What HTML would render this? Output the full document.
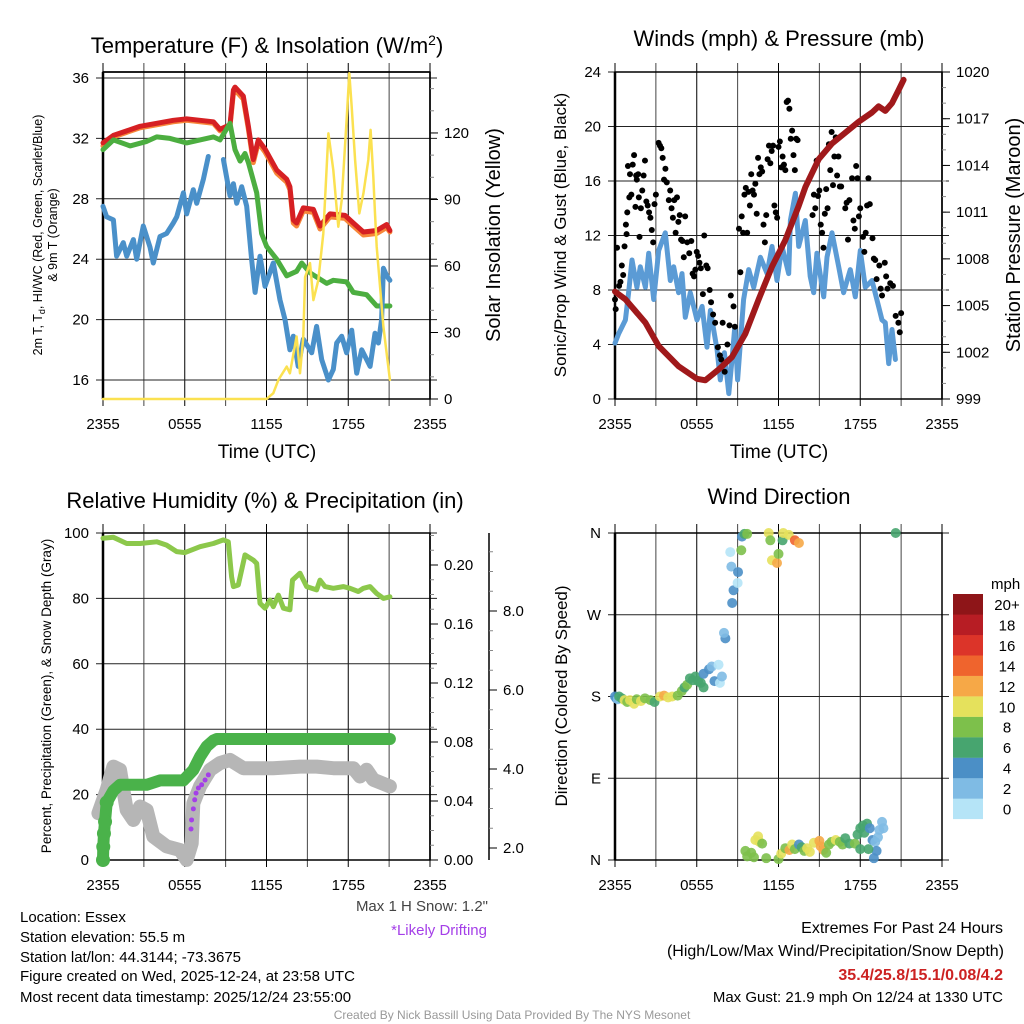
<!DOCTYPE html>
<html><head><meta charset="utf-8"><style>
body{margin:0;background:#fff;font-family:"Liberation Sans",Arial,sans-serif}
svg{display:block}
</style></head><body>
<svg id="s" width="1024" height="1024" xmlns="http://www.w3.org/2000/svg" font-family="Liberation Sans, Arial, sans-serif">
<text x="267" y="53" font-size="22" text-anchor="middle">Temperature (F) &amp; Insolation (W/m<tspan dy="-8" font-size="14">2</tspan><tspan dy="8">)</tspan></text>
<text x="779" y="46" font-size="22" text-anchor="middle">Winds (mph) &amp; Pressure (mb)</text>
<text x="265" y="508" font-size="22" text-anchor="middle">Relative Humidity (%) &amp; Precipitation (in)</text>
<text x="779" y="504" font-size="22" text-anchor="middle">Wind Direction</text>
<text transform="translate(42,235) rotate(-90)" font-size="12.5" text-anchor="middle">2m T, T<tspan font-size="9" dy="3">d</tspan><tspan dy="-3">, HI/WC (Red, Green, Scarlet/Blue)</tspan></text>
<text transform="translate(57,235) rotate(-90)" font-size="12.5" text-anchor="middle">&amp; 9m T (Orange)</text>
<text transform="translate(500,235) rotate(-90)" font-size="20" text-anchor="middle">Solar Insolation (Yellow)</text>
<text transform="translate(566,235) rotate(-90)" font-size="17" text-anchor="middle">Sonic/Prop Wind &amp; Gust (Blue, Black)</text>
<text transform="translate(1020,235) rotate(-90)" font-size="20" text-anchor="middle">Station Pressure (Maroon)</text>
<text transform="translate(51,696) rotate(-90)" font-size="13.5" text-anchor="middle">Percent, Precipitation (Green), &amp; Snow Depth (Gray)</text>
<text transform="translate(567,696) rotate(-90)" font-size="17" text-anchor="middle">Direction (Colored By Speed)</text>
<text x="267" y="458" font-size="19" text-anchor="middle">Time (UTC)</text>
<text x="779" y="458" font-size="19" text-anchor="middle">Time (UTC)</text>
<g font-size="15">
<text x="20" y="922">Location: Essex</text>
<text x="20" y="942">Station elevation: 55.5 m</text>
<text x="20" y="962">Station lat/lon: 44.3144; -73.3675</text>
<text x="20" y="981">Figure created on Wed, 2025-12-24, at 23:58 UTC</text>
<text x="20" y="1002">Most recent data timestamp: 2025/12/24 23:55:00</text>
</g>
<text x="488" y="911" font-size="15" text-anchor="end" fill="#444">Max 1 H Snow: 1.2"</text>
<text x="487" y="935" font-size="15" text-anchor="end" fill="#a43fe8">*Likely Drifting</text>
<g font-size="16" text-anchor="end">
<text x="1003" y="933">Extremes For Past 24 Hours</text>
<text x="1004" y="956">(High/Low/Max Wind/Precipitation/Snow Depth)</text>
<text x="1003" y="980" fill="#cc2222" font-weight="bold">35.4/25.8/15.1/0.08/4.2</text>
<text x="1003" y="1002" font-size="15">Max Gust: 21.9 mph On 12/24 at 1330 UTC</text>
</g>
<text x="512" y="1019" font-size="12" text-anchor="middle" fill="#999">Created By Nick Bassill Using Data Provided By The NYS Mesonet</text>
</svg>
<script>
// ---- data ----
const xTickLabels=["2355","0555","1155","1755","2355"];
const tempHours=[0,0.76,2.72,5.16,6.14,8.1,8.59,9.32,9.57,9.69,10.3,10.67,11.03,11.4,11.89,12.75,13.48,13.72,13.97,14.21,14.7,15.44,15.93,16.66,17.76,18.37,19.11,20.09,20.82,21.06];
const tempVals=[31.7,32.2,32.8,33.2,33.3,33.1,32.6,32.9,35.2,35.4,34.8,32.8,30.6,31.9,31.3,29.9,29.3,28.8,26.6,26.4,27.4,27.3,26.2,27.0,26.9,26.4,25.8,25.9,26.3,25.9];
const t9Vals=[31.5,32.1,32.7,33.1,33.2,33.0,32.5,32.8,35.0,35.2,34.6,32.6,30.4,31.7,31.1,29.7,29.1,28.6,26.4,26.2,27.2,27.1,26.0,26.8,26.7,26.2,25.6,25.7,26.1,25.8];
const hiHours=[0,0.76,1.99,3.21,3.94,4.92,6.14,7.12,8.1,8.59,9.32,9.69,10.06,10.42,10.67,11.28,11.64,12.01,12.75,13.48,14.21,14.58,15.19,16.42,16.9,17.88,18.37,19.35,20.09,21.06];
const hiVals=[31.25,31.9,31.5,31.8,32.1,32.0,31.7,31.9,32.1,31.9,33.0,31.25,30.5,31.0,30.4,28.4,25.7,24.85,24.0,22.9,23.2,23.75,23.1,22.4,22.6,22.5,21.8,21.65,20.9,20.9];
const tdHours=[0,0.27,0.76,1.0,1.49,1.74,2.23,2.47,2.96,3.45,3.69,4.18,4.67,5.16,5.41,5.9,6.14,6.63,7.12,7.49,null,8.35,8.59,9.08,9.32,9.57,9.93,10.3,10.67,10.91,11.28,11.64,12.5,12.99,13.36,13.72,13.97,14.33,14.7,15.32,15.68,16.05,16.54,16.9,17.15,17.52,17.88,18.25,18.62,18.99,19.6,19.96,20.21,20.45,20.82,21.06];
const tdVals=[27.5,26.8,26.6,24.2,25.1,24.2,25.3,24.0,26.2,24.8,23.75,25.5,25.7,26.4,26.8,28.4,27.0,28.6,27.7,29.3,30.8,null,30.6,28.2,29.0,27.7,28.8,27.5,24.0,21.8,24.2,22.2,23.75,21.3,20.0,18.0,18.9,16.9,18.7,17.8,19.55,17.35,16.0,16.7,18.45,18.9,17.8,19.3,16.45,18.0,16.9,19.1,18.45,20.0,23.4,22.9,22.6].slice(0,0);
const tdH=[0,0.27,0.76,1.0,1.49,1.74,2.23,2.47,2.96,3.45,3.69,4.18,4.67,5.16,5.41,5.9,6.14,6.63,6.88,7.37,7.73,8.59,8.84,9.32,9.57,9.81,10.18,10.55,10.91,11.16,11.52,11.89,12.5,12.99,13.36,13.72,13.97,14.33,14.7,15.32,15.68,16.05,16.54,16.9,17.15,17.52,17.88,18.25,18.62,18.99,19.6,19.96,20.21,20.45,20.58,20.82,21.06];
const tdV=[27.5,26.8,26.6,24.2,25.1,24.2,25.3,24.0,26.2,24.8,23.75,25.5,25.7,26.4,26.8,28.4,27.0,28.6,27.7,29.3,30.8,null,30.6,28.2,29.0,27.7,28.8,27.5,24.0,21.8,24.2,22.2,23.75,21.3,20.0,18.0,18.9,16.9,18.7,17.8,19.55,17.35,16.0,16.7,18.45,18.9,17.8,19.3,16.45,18.0,16.9,19.1,18.45,20.0,23.4,22.9,22.6];
const solHours=[0,12.0,12.5,12.87,13.48,13.72,14.21,14.46,14.7,14.83,15.19,15.44,15.8,16.17,16.54,16.9,17.27,17.52,17.88,18.08,18.25,18.5,18.81,19.11,19.47,19.64,19.84,19.96,20.09,20.58,21.06];
const solVals=[0,0,2.6,8.6,14.6,11.6,28.2,11.6,28.2,55,61.3,44.6,53.6,74.6,119.8,103.3,77.7,89.7,125.8,146.9,131.8,107.8,83.7,92.7,107.8,121.4,100.3,83.7,68.7,32.6,8.6];
const tempTicks=[16,20,24,28,32,36];
const solTicks=[0,30,60,90,120];

const presHours=[0,0.76,2.23,3.21,4.67,6.02,6.63,7.61,8.59,9.57,10.55,11.52,12.5,13.48,13.97,14.95,15.93,16.9,17.88,18.86,19.35,19.84,20.33,20.82,21.18];
const presVals=[1005.9,1005.4,1003.9,1002.4,1001.1,1000.3,1000.2,1000.9,1001.7,1003.2,1005.4,1007.5,1009.2,1011.4,1012.6,1014.4,1015.4,1016.1,1016.8,1017.4,1017.8,1017.5,1018.0,1018.85,1019.5];
const windHours=[0,0.27,0.76,1.0,1.25,1.61,1.86,2.23,2.47,2.84,3.21,3.69,4.06,4.31,4.67,4.92,5.16,5.53,6.02,6.39,6.75,7.0,7.49,7.73,8.03,8.35,8.59,8.79,9.0,9.44,9.81,10.18,10.67,11.16,11.52,11.89,12.26,12.75,12.87,13.24,13.48,13.97,14.33,14.58,14.82,15.32,15.56,15.93,16.42,16.78,17.27,17.64,18.0,18.37,18.86,19.35,19.6,19.84,20.09,20.33,20.58];
const windVals=[4.1,4.8,5.8,7.8,10.2,8.2,9.7,8.2,10.7,7.3,10.9,12.2,8.7,9.7,7.8,9.2,6.0,7.8,5.8,6.8,3.8,6.5,3.6,1.4,3.4,0.4,2.9,5.3,1.4,7.3,9.5,8.2,10.4,9.2,11.2,8.7,11.2,9.2,13.1,15.1,11.2,13.1,9.0,7.8,10.7,7.5,10.4,12.2,9.7,7.8,9.5,7.5,10.9,8.2,8.7,6.8,5.8,5.6,2.6,5.1,2.9];
const gustHours=[0,0.05,0.15,0.3,0.4,0.5,0.6,0.7,0.8,0.85,0.9,0.95,1.05,1.1,1.2,1.3,1.4,1.5,1.55,1.6,1.7,1.75,1.8,1.9,2.0,2.1,2.2,2.3,2.4,2.5,2.6,2.7,2.8,2.9,3.0,3.2,3.3,3.4,3.5,3.6,3.7,3.8,3.95,4.05,4.15,4.25,4.35,4.45,4.55,4.65,4.75,4.85,4.95,5.05,5.15,5.3,5.45,5.6,5.7,5.8,5.9,6.0,6.1,6.2,6.3,6.45,6.55,6.7,6.8,6.95,7.05,7.2,7.35,7.55,7.7,7.8,7.9,8.05,8.25,8.4,8.5,8.7,8.8,
9.1,9.2,9.3,9.4,9.5,9.6,9.7,9.8,9.9,10.0,10.1,10.2,10.3,10.4,10.5,10.6,10.7,10.8,10.9,11.0,11.1,11.2,11.3,11.4,11.5,11.6,11.7,11.8,11.9,12.0,12.1,12.2,12.3,12.4,12.5,12.6,12.7,12.8,12.9,13.0,13.1,13.2,13.3,13.4,
14.5,14.6,14.7,14.8,14.9,15.0,15.1,15.2,15.3,15.4,15.5,15.6,15.7,15.8,15.9,16.0,16.1,16.2,16.3,16.4,16.5,16.6,
16.9,17.0,17.1,17.2,17.4,17.5,17.6,17.7,17.8,17.9,18.0,18.2,18.3,18.4,18.5,18.6,18.7,18.9,19.0,19.1,19.2,19.4,19.5,19.6,19.8,19.9,20.0,20.2,20.4,20.6,20.8,20.9,21.0];
const gustVals=[7.3,6.6,11.1,8.3,8.6,9.8,9.1,11.2,12.8,12.1,13.7,17.1,14.8,16.5,15.0,17.2,17.9,14.1,16.4,16.1,16.5,14.8,11.9,14.0,15.3,16.4,17.5,14.5,14.2,13.7,13.3,12.4,11.5,14.3,15.0,18.8,18.6,18.4,17.7,16.1,16.9,15.9,14.6,15.3,14.0,13.3,14.6,12.2,14.8,13.0,13.5,11.7,11.6,10.4,13.4,11.5,10.7,11.6,9.2,9.0,9.5,10.8,10.5,10.0,9.6,7.7,12.0,9.8,9.6,8.0,7.1,6.2,5.6,3.8,3.2,2.9,5.6,2.0,4.0,5.4,7.6,6.8,5.3,
12.5,9.3,13.4,12.2,15.0,15.5,12.2,15.2,14.2,16.5,15.3,15.0,15.8,13.6,17.7,16.5,17.0,16.7,12.8,11.5,13.5,17.6,18.6,17.3,18.2,18.6,14.2,13.7,13.3,18.5,18.9,17.0,17.8,17.2,16.8,21.8,21.9,21.3,19.1,19.7,17.9,16.8,19.1,19.0,
13.5,15.0,14.0,17.5,14.9,15.3,12.8,12.2,11.1,13.6,15.4,14.0,18.7,16.8,19.6,15.7,17.8,19.2,16.4,17.8,15.6,15.6,
14.0,14.4,11.7,14.6,16.2,13.1,12.5,17.1,16.2,13.4,14.0,11.9,10.8,12.2,14.2,16.2,14.3,11.8,10.3,10.2,8.8,9.8,8.1,7.6,10.0,9.0,8.1,8.5,8.3,6.1,5.6,4.9,6.3];
const windTicks=[0,4,8,12,16,20,24];
const presTicks=[999,1002,1005,1008,1011,1014,1017,1020];

const rhHours=[0,0.76,1.74,2.72,3.94,4.67,5.41,6.02,7.12,8.1,8.84,9.2,9.44,9.57,9.93,10.42,11.03,11.28,11.52,11.89,12.26,12.5,12.87,13.24,13.72,13.91,14.46,14.95,15.68,15.93,16.29,16.9,17.64,18.13,18.74,19.11,19.6,20.09,20.58,21.06];
const rhVals=[98.4,98.7,96.8,96.8,97.3,96.3,94.3,94.0,95.8,96.8,97.9,97.3,86.6,83.6,84.1,93.3,91.7,90.7,78.5,77.0,79.5,77.5,81.0,77.0,76.5,85.6,87.7,83.6,82.6,85.6,83.6,83.1,83.6,83.1,82.1,83.1,83.6,81.5,80.0,80.5];
const precipHours=[0,0.02,0.07,0.15,0.27,0.76,1.25,1.74,2.23,3.21,4.18,5.16,5.9,6.63,7.12,7.61,8.1,8.35,8.59,9.2,10.0,11.0,12.0,13.0,14.0,15.0,16.0,17.0,18.0,19.0,20.0,21.06];
const precipVals=[0,0.009,0.018,0.026,0.039,0.047,0.051,0.051,0.051,0.051,0.054,0.054,0.054,0.061,0.070,0.077,0.081,0.082,0.082,0.082,0.082,0.082,0.082,0.082,0.082,0.082,0.082,0.082,0.082,0.082,0.082,0.082];
const snowHours=[-0.34,0.27,0.76,1.25,1.74,2.23,2.72,3.21,3.69,4.67,5.65,6.14,6.51,6.63,7.12,7.86,8.59,9.32,10.3,12.5,14.46,15.68,16.9,18.37,18.86,19.35,19.84,21.06];
const snowVals=[2.88,3.47,4.06,3.98,2.96,2.71,3.05,2.96,2.29,2.04,1.95,1.70,2.12,3.13,3.56,3.98,4.15,4.23,4.02,4.02,4.06,4.06,4.02,4.02,3.81,3.98,3.73,3.56];
const driftHours=[6.46,6.5,6.63,6.73,6.83,7.0,7.24,7.49,7.73];
const driftVals=[2.48,2.71,2.99,3.22,3.39,3.52,3.6,3.72,3.85];
const rhTicks=[0,20,40,60,80,100];
const precipTicks=["0.00","0.04","0.08","0.12","0.16","0.20"];
const snowTicks=["2.0","4.0","6.0","8.0"];

const dirHours=[0.0,0.1,0.2,0.3,0.5,0.7,0.9,1.1,1.4,1.6,1.9,2.2,2.6,2.9,3.3,3.6,3.9,4.2,4.6,4.9,5.1,5.3,5.5,5.7,5.9,6.1,6.3,6.5,6.5,6.9,7.1,7.3,7.6,7.7,7.85,8.1,8.0,8.6,8.7,8.54,8.46,9.03,9.0,9.32,9.5,9.7,9.27,11.28,11.4,11.52,11.89,12.0,12.3,12.35,12.75,13.2,13.5,20.6,
9.57,9.7,10.0,10.2,10.3,10.5,10.6,10.8,11.1,12.0,12.2,12.5,12.8,13.0,13.2,13.5,13.7,13.9,14.1,14.3,14.6,15.0,15.1,15.3,15.5,15.7,15.9,16.2,16.5,16.7,16.9,17.2,17.6,17.8,18.0,18.2,18.5,18.3,18.7,18.9,19.1,19.3,19.2,19.0,19.6,19.7,18.6,18.0,19.4];
const dirVals=[180,178,177,180,178,176,174,176,172,177,175,178,176,174,180,181,179,180,181,186,190,193,200,198,202,197,195,190,205,210,213,197,215,195,202,244,250,283,297,323,339,317,305,356,359,359,341,360,352,330,327,337,352,360,358,352,349,360,
10,4,8,3,22,26,20,18,2,1,7,13,11,17,12,17,14,10,13,9,19,21,15,11,8,17,20,22,20,17,24,18,18,28,35,38,40,30,35,22,20,25,10,2,42,35,12,12,33];
const dirSpeeds=[4,4,3,6,7,10,9,10,10,8,10,8,8,6,10,12,10,10,9,8,7,8,6,7,6,7,6,6,4,4,3,5,1,1,2,4,2,4,4,2,0,4,1,5,7,8,8,10,8,10,12,9,7,10,10,14,12,6,
8,8,8,8,10,10,10,8,8,8,10,8,12,10,8,4,6,8,10,10,10,12,12,12,8,8,8,10,8,8,6,6,8,6,6,6,6,6,5,4,3,2,4,4,2,2,6,7,3];
const speedColors=["#b5e4f7","#7fbbe4","#4b8fc6","#47a56f","#7dc04b","#e5e15c","#f6a847","#ef642d","#dc3429","#b71d24","#8e1518"];
const speedLabels=["0","2","4","6","8","10","12","14","16","18","20+"];
const dirTicks=["N","E","S","W","N"];

// ---- drawing ----
const S=document.getElementById('s');
const NS='http://www.w3.org/2000/svg';
function mk(tag,attrs,parent){const e=document.createElementNS(NS,tag);for(const k in attrs)e.setAttribute(k,attrs[k]);(parent||S).appendChild(e);return e;}
function panel(x0,x1,y0,y1,name){
  const g=mk('g',{});
  
  
  const xs=h=>x0+(h/24)*(x1-x0);
  return {g,xs,x0,x1,y0,y1};
}
function grid(P,yTicks,ys,labels,leftLbl){
  for(let i=0;i<=8;i++){const x=P.xs(i*3);const l=mk('line',{x1:x,x2:x,y1:P.y0-9,y2:P.y1+7,stroke:i%2?'#444':'#000','stroke-width':1},P.g);
    
    }
  yTicks.forEach((v,i)=>{const y=ys(v);const l=mk('line',{x1:P.x0-7,x2:P.x1+7,y1:y,y2:y,stroke:'#222','stroke-width':1},P.g);
    
    
    const t=mk('text',{x:P.x0-14,y:y+5,'font-size':15,'text-anchor':'end'},P.g);t.textContent=labels?labels[i]:v;
    
    });
  xTickLabels.forEach((s,i)=>{const t=mk('text',{x:P.xs(i*6),y:P.y1+30,'font-size':15,'text-anchor':'middle'},P.g);t.textContent=s;
    
    });
  mk('rect',{x:P.x0,y:P.y0,width:P.x1-P.x0,height:P.y1-P.y0,fill:'none',stroke:'#000','stroke-width':1.5},P.g);
  mk('line',{x1:P.x0,x2:P.x0,y1:P.y0,y2:P.y1,stroke:'#000','stroke-width':2.5},P.g);
}
function rightAxis(P,ticks,ys,labels,x,name,minor){
  const g=mk('g',{},P.g);
  
  
  mk('line',{x1:x,x2:x,y1:P.y0,y2:P.y1,stroke:'#000','stroke-width':1.5},g);
  if(minor) minor.forEach(v=>mk('line',{x1:x,x2:x+4,y1:ys(v),y2:ys(v),stroke:'#888','stroke-width':1},g));
  ticks.forEach((v,i)=>{const y=ys(v);mk('line',{x1:x,x2:x+8,y1:y,y2:y,stroke:'#000','stroke-width':1},g);
    const t=mk('text',{x:x+14,y:y+5,'font-size':15},g);t.textContent=labels?labels[i]:v;
    
    });
}
function line(P,hs,vs,ys,color,w,name){
  let d='',pen=false;
  hs.forEach((h,i)=>{const v=vs[i];if(h===null||v===null){pen=false;return;}d+=(pen?'L':'M')+P.xs(h).toFixed(1)+' '+ys(v).toFixed(1);pen=true;});
  const p=mk('path',{d,fill:'none',stroke:color,'stroke-width':w,'stroke-linejoin':'round','stroke-linecap':'round'},P.g);
  
  
}
function dots(P,hs,vs,ys,color,r,name){
  hs.forEach((h,i)=>{const c=mk('circle',{cx:P.xs(h),cy:ys(vs[i]),r,fill:color},P.g);
    
    });
}
function range(a,b,s){const r=[];for(let v=a;v<=b+1e-9;v+=s)r.push(+v.toFixed(4));return r;}

// Panel 1
const P1=panel(103,430,72,399,'temperature-panel');
const yT=v=>78+(36-v)*15.1, yS=v=>399-v*2.217;
grid(P1,tempTicks,yT);
mk('line',{x1:P1.x0,x2:P1.x1,y1:72,y2:72,stroke:'#000','stroke-width':1.5},P1.g);
rightAxis(P1,solTicks,yS,null,430,'insolation-axis',range(0,145,10));
line(P1,tempHours,t9Vals,yT,'#f7873a',5,'9m-temp-line');
line(P1,tempHours,tempVals,yT,'#d62023',5,'temp-line');
line(P1,hiHours,hiVals,yT,'#4cae40',5,'hiwc-line');
line(P1,tdH,tdV,yT,'#4a90c9',5,'dewpoint-line');
line(P1,solHours,solVals,yS,'#fbe150',2.5,'insolation-line');

// Panel 2
const P2=panel(615,942,72,399,'wind-panel');
const yW=v=>399-v*13.625, yP=v=>399-(v-999)*15.571;
grid(P2,windTicks,yW);
rightAxis(P2,presTicks,yP,null,942,'pressure-axis',range(999,1020,1));
line(P2,windHours,windVals,yW,'#5b9bd5',5,'wind-speed-line');
dots(P2,gustHours,gustVals,yW,'#000',3,'gust-dot');
line(P2,presHours,presVals,yP,'#a0191b',6,'pressure-line');

// Panel 3
const P3=panel(103,430,533,860,'rh-panel');
const yR=v=>860-v*3.27, yPr=v=>860-v*1475, ySn=v=>848-(v-2)*39.5;
grid(P3,rhTicks,yR);
rightAxis(P3,[0,0.04,0.08,0.12,0.16,0.20],yPr,precipTicks,430,'precip-axis',range(0,0.22,0.01));
rightAxis(P3,[2,4,6,8],ySn,snowTicks,489,'snow-axis',range(2,9.5,0.5));
line(P3,snowHours,snowVals,ySn,'#b6b6b6',14,'snow-depth-line');
line(P3,rhHours,rhVals,yR,'#8cc84b',5,'rh-line');
line(P3,precipHours,precipVals,yPr,'#4ab24a',12,'precip-line');
dots(P3,precipHours.slice(0,5),precipVals.slice(0,5),yPr,'#4ab24a',7,'precip-dot');
dots(P3,driftHours,driftVals,ySn,'#a43fe8',2.5,'drift-dot');

// Panel 4
const P4=panel(615,942,533,860,'direction-panel');
const yD=v=>860-v*0.9083;
grid(P4,[0,90,180,270,360],yD,dirTicks);
dirHours.forEach((h,i)=>{const c=mk('circle',{cx:P4.xs(h),cy:yD(dirVals[i]),r:5,fill:speedColors[Math.min(10,Math.floor(dirSpeeds[i]/2))],'fill-opacity':0.9},P4.g);
  
  });
// colorbar
const cb=mk('g',{});


const cbt=mk('text',{x:991,y:589,'font-size':15},cb);cbt.textContent='mph';
speedColors.forEach((c,i)=>{const y=798.5-i*20.45;mk('rect',{x:953,y:y,width:30,height:20.6,fill:c},cb);
  const t=mk('text',{x:1007,y:y+16,'font-size':15,'text-anchor':'middle'},cb);t.textContent=speedLabels[i];});
</script>
</body></html>
